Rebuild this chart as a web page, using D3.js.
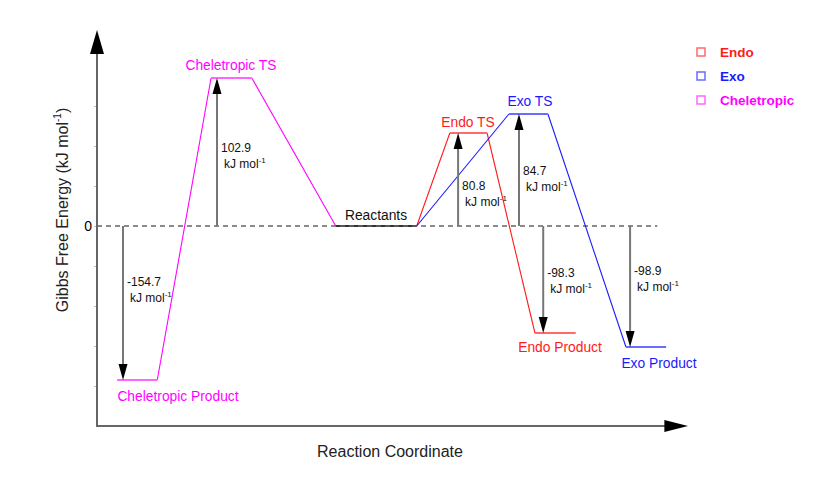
<!DOCTYPE html>
<html><head><meta charset="utf-8">
<script src="https://cdn.jsdelivr.net/npm/d3@7/dist/d3.min.js"></script>
<style>body{margin:0;background:#fff}svg{display:block}text{font-family:"Liberation Sans",Arial,sans-serif}</style>
</head><body><svg id="c" width="824" height="483"></svg>
<script>
// ---- data ----
const stateNames = ["Cheletropic Product","Cheletropic TS","Reactants","Endo TS","Endo Product","Exo TS","Exo Product"];
// diagram level of each state (schematic, kJ/mol-like units as drawn)
const stateLevel = [-154, 148, 0, 93, -107, 112, -121];
// reaction-coordinate extent of each plateau
const stateStart = [3.4, 19.3, 40.4, 59.7, 74.1, 69.7, 89.5];
const stateEnd   = [10.2, 26.2, 54.1, 66.0, 81.0, 76.3, 96.3];
const stateSeries = ["Cheletropic","Cheletropic","Reactants","Endo","Endo","Exo","Exo"];
const series = ["Endo","Exo","Cheletropic"];
const seriesColor = ["#ff1a1a","#1a1aff","#ff00ff"];
const seriesLight = ["#ff6b6b","#6b6bff","#ff66ff"];
const pathways = [[2,3,4],[2,5,6],[0,1,2]]; // per series order
// energy differences (kJ/mol) annotated with arrows
const deltaG = [-154.7, 102.9, 80.8, 84.7, -98.3, -98.9];
const deltaTarget = [0, 1, 3, 5, 4, 6];
const deltaX = [4.4, 20.3, 61.1, 71.4, 75.5, 90.2];
const yTicks = [-160,-120,-80,-40,0,40,80,120];

// ---- layout (label placement) ----
const deltaLabelY = [286, 152, 190, 175, 277, 275];
const stateLabelPos = {
  "Cheletropic Product":[178,401], "Cheletropic TS":[231,70], "Reactants":[376,220],
  "Endo TS":[468,127], "Endo Product":[560,352], "Exo TS":[530,106], "Exo Product":[659,368]
};

// ---- scales ----
const svg = d3.select("#c");
const x = d3.scaleLinear().domain([0,100]).range([97,688]);
const y = d3.scaleLinear().domain([-200,200]).range([426,26]);
const col = d3.scaleOrdinal().domain(series).range(seriesColor);
const colL = d3.scaleOrdinal().domain(series).range(seriesLight);

// ---- axes ----
const ya = svg.append("g").attr("transform",`translate(${x(0)},0)`)
  .call(d3.axisLeft(y).tickValues(yTicks).tickFormat(d=>d===0?"0":"").tickSize(3).tickPadding(2));
ya.select(".domain").remove();
ya.selectAll(".tick line").attr("stroke","#bbb");
ya.selectAll(".tick text").attr("font-size",14).attr("fill","#000");
svg.append("line").attr("x1",x(0)).attr("x2",x(0)).attr("y1",y(-201)).attr("y2",y(175))
  .attr("stroke","#666").attr("stroke-width",2);
svg.append("path").attr("d",`M${x(0)},${y(196)} L${x(0)-7},${y(172)} L${x(0)+7},${y(172)} Z`).attr("fill","#000");
svg.append("line").attr("x1",x(0)-1).attr("x2",x(97)).attr("y1",y(-200)).attr("y2",y(-200))
  .attr("stroke","#666").attr("stroke-width",2);
svg.append("path").attr("d",`M${x(100)},${y(-200)} L${x(96)},${y(-200)-6} L${x(96)},${y(-200)+6} Z`).attr("fill","#000");

svg.append("text").attr("transform",`translate(68,210) rotate(-90)`).attr("text-anchor","middle")
  .attr("font-size",16).attr("fill","#222")
  .html('Gibbs Free Energy (kJ mol<tspan dy="-7" font-size="10">-1</tspan><tspan dy="7">)</tspan>');
svg.append("text").attr("x",390).attr("y",457).attr("text-anchor","middle").attr("font-size",16).attr("fill","#222")
  .text("Reaction Coordinate");

// reactants plateau (dark)
svg.append("line").attr("x1",x(stateStart[2])).attr("x2",x(stateEnd[2])).attr("y1",y(0)).attr("y2",y(0))
  .attr("stroke","#333").attr("stroke-width",2);
// zero dashed line
svg.append("line").attr("x1",x(0)).attr("x2",x(94.8)).attr("y1",y(0)).attr("y2",y(0))
  .attr("stroke","#666").attr("stroke-width",1.3).attr("stroke-dasharray","5,4");

// ---- pathways ----
series.forEach((s,i)=>{
  const seq = pathways[i];
  for(let k=0;k<seq.length-1;k++){
    const a=seq[k], b=seq[k+1];
    svg.append("line").attr("x1",x(stateEnd[a])).attr("y1",y(stateLevel[a]))
      .attr("x2",x(stateStart[b])).attr("y2",y(stateLevel[b]))
      .attr("stroke",col(s)).attr("stroke-width",1.1);
  }
  seq.filter(j=>stateSeries[j]===s).forEach(j=>{
    svg.append("line").attr("x1",x(stateStart[j])).attr("x2",x(stateEnd[j]))
      .attr("y1",y(stateLevel[j])).attr("y2",y(stateLevel[j]))
      .attr("stroke",colL(s)).attr("stroke-width",2);
  });
});

// ---- state labels ----
stateNames.forEach((n,j)=>{
  const s = stateSeries[j];
  const [lx,ly] = stateLabelPos[n];
  svg.append("text").attr("x",lx).attr("y",ly).attr("text-anchor","middle").attr("font-size",13.8)
    .attr("fill", s==="Reactants" ? "#111" : col(s)).text(n);
});

// ---- arrows ----
deltaG.forEach((v,i)=>{
  const t = deltaTarget[i];
  const ax = x(deltaX[i]);
  const y0 = y(0), y1 = y(stateLevel[t]);
  const dir = y1>y0 ? 1 : -1;
  svg.append("line").attr("x1",ax).attr("x2",ax).attr("y1",y0).attr("y2",y1-dir*14)
    .attr("stroke","#777").attr("stroke-width",2);
  svg.append("path").attr("d",`M${ax},${y1} L${ax-4.5},${y1-dir*16} L${ax+4.5},${y1-dir*16} Z`).attr("fill","#000");
  const ty = deltaLabelY[i];
  const g = svg.append("g").attr("font-size",12).attr("fill","#111");
  g.append("text").attr("x",ax+4).attr("y",ty).text(v.toFixed(1));
  g.append("text").attr("x",ax+7).attr("y",ty+16).html('kJ mol<tspan dy="-5" font-size="8">-1</tspan>');
});

// ---- legend ----
series.forEach((s,i)=>{
  const ly = 52 + i*24;
  svg.append("rect").attr("x",697).attr("y",ly-4).attr("width",8).attr("height",8)
    .attr("fill","#fff").attr("stroke",colL(s)).attr("stroke-width",1.5);
  svg.append("text").attr("x",720).attr("y",ly+5).attr("font-size",13.5).attr("font-weight","bold")
    .attr("fill",col(s)).text(s);
});
</script></body></html>
